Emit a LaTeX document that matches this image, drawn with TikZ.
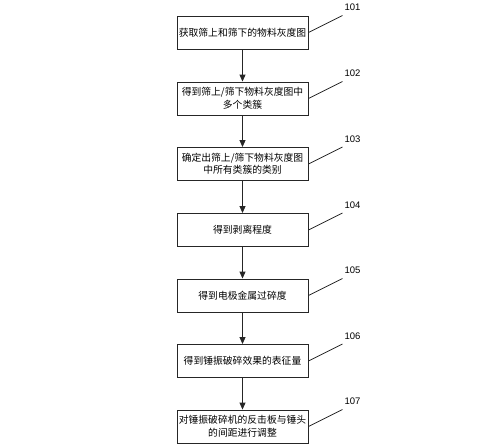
\documentclass[tikz,border=0pt]{standalone}
\usepackage{fontspec}
\setmainfont{Liberation Sans}
\newfontfamily\cjk{Noto Sans CJK SC}
\usetikzlibrary{arrows.meta}
\begin{document}
\begin{tikzpicture}[x=1pt,y=-1pt,
  stepbox/.style={draw=black!85,line width=0.9pt,minimum width=131pt,minimum height=33pt,inner sep=1pt,align=center,font=\cjk\fontsize{9.8}{12.5}\selectfont},
  flow/.style={draw=black!85,line width=0.9pt,-{Triangle[length=7pt,width=6pt]}},
  lead/.style={draw=black!85,line width=0.8pt},
  lab/.style={font=\fontsize{9.5}{10}\selectfont,inner sep=0pt}]
\useasboundingbox (0,0) rectangle (500,444);
\node[stepbox] (b1) at (242.5,32.5) {获取筛上和筛下的物料灰度图};
\node[stepbox] (b2) at (242.5,98.5) {得到筛上/筛下物料灰度图中\\多个类簇};
\node[stepbox] (b3) at (242.5,164) {确定出筛上/筛下物料灰度图\\中所有类簇的类别};
\node[stepbox] (b4) at (242.5,230) {得到剥离程度};
\node[stepbox] (b5) at (242.5,295.5) {得到电极金属过碎度};
\node[stepbox] (b6) at (242.5,361) {得到锤振破碎效果的表征量};
\node[stepbox] (b7) at (242.5,426.5) {对锤振破碎机的反击板与锤头\\的间距进行调整};
\foreach \a/\b in {b1/b2,b2/b3,b3/b4,b4/b5,b5/b6,b6/b7}{\draw[flow] (\a.south) -- (\b.north);}
\foreach \n/\t in {1/101,2/102,3/103,4/104,5/105,6/106,7/107}{
  \coordinate (e\n) at ([shift={(34,-17)}]b\n.east);
  \draw[lead] (b\n.east) -- (e\n);
  \node[lab] (l\n) at ([shift={(10,-8)}]e\n) {\t};
}
\end{tikzpicture}
\end{document}
